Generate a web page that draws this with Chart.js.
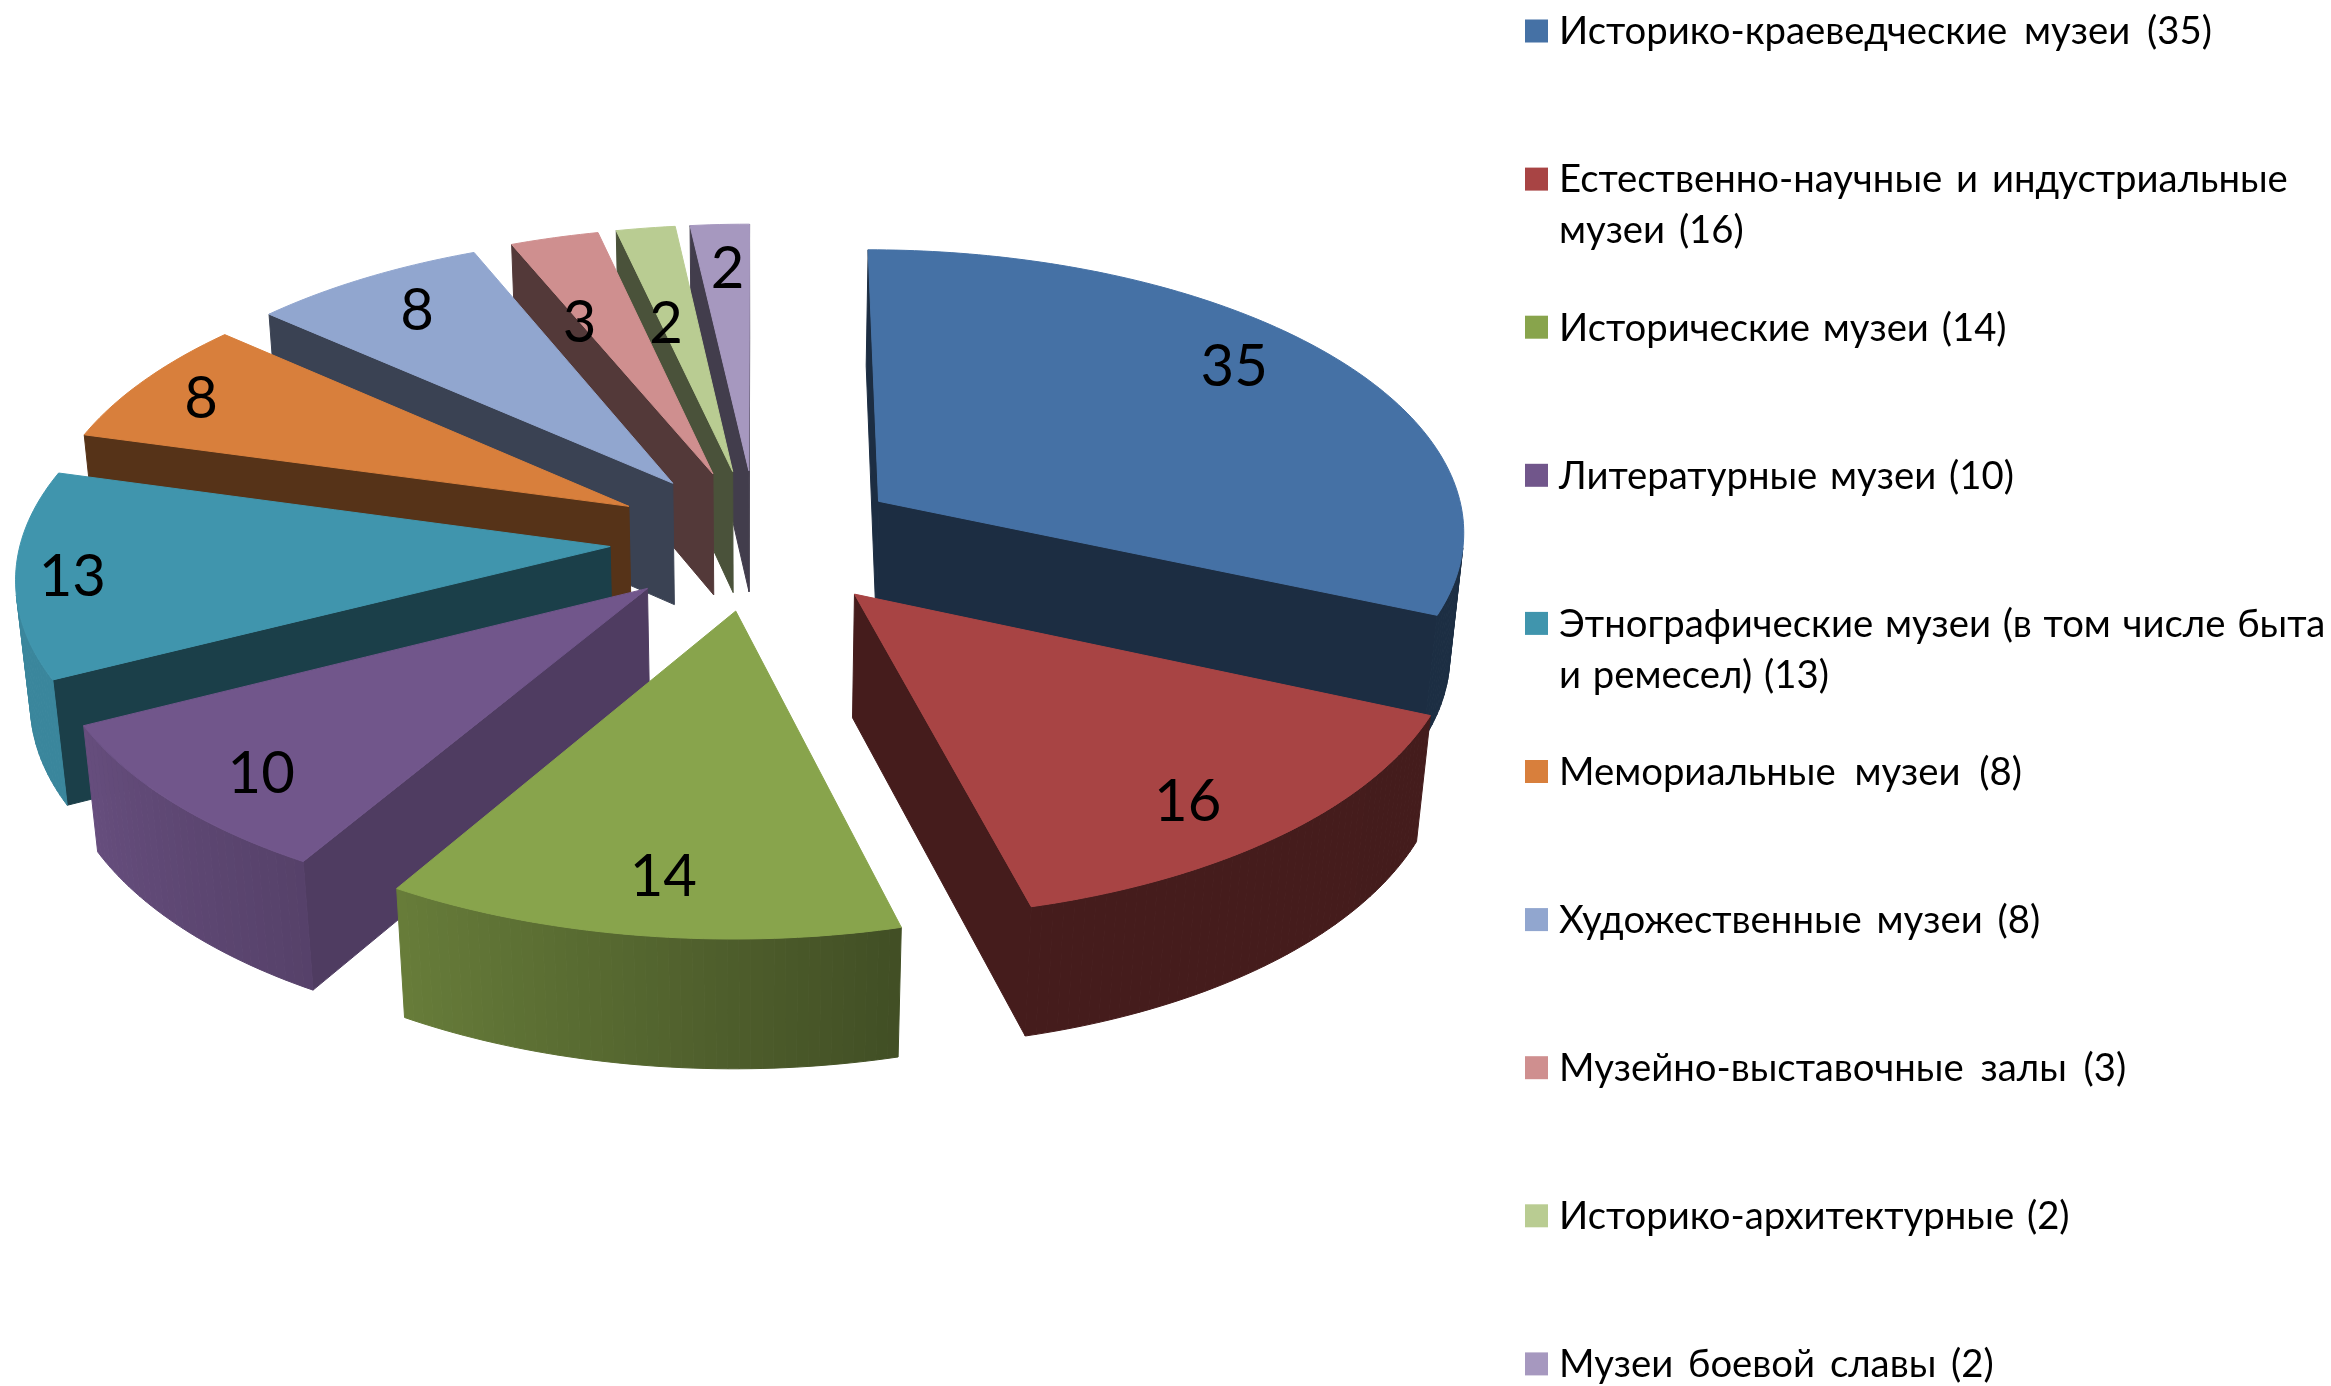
<!DOCTYPE html>
<html lang="ru">
<head>
<meta charset="utf-8">
<title>Музеи</title>
<script src="https://cdn.jsdelivr.net/npm/chart.js@4/dist/chart.umd.min.js"></script>
<style>
  html, body { margin: 0; background: #fff; }
  canvas { display: block; }
</style>
</head>
<body>
<canvas id="pie" width="2331" height="1386"></canvas>
<script>
// -----------------------------
// Data
// -----------------------------
const categories = [
    'Историко-краеведческие музеи',
    'Естественно-научные и индустриальные музеи',
    'Исторические музеи',
    'Литературные музеи',
    'Этнографические музеи (в том числе быта и ремесел)',
    'Мемориальные музеи',
    'Художественные музеи',
    'Музейно-выставочные залы',
    'Историко-архитектурные',
    'Музеи боевой славы'
];
const values = [35, 16, 14, 10, 13, 8, 8, 3, 2, 2];

// -----------------------------
// Styles
// -----------------------------
const colors = ['#4571a5', '#a84444', '#88a44c', '#71568b', '#4095ad', '#d87f3c', '#91a6cf', '#cf8f8f', '#b9cc92', '#a698bf'];
const wallShade = [0.4, 0.41, 0.5, 0.7, 0.42, 0.4, 0.4, 0.4, 0.4, 0.4];
const rimStops = [[0, 0.4], [165.2, 0.41], [165.5, 0.48], [211, 0.76], [243, 0.9], [360, 0.9]];
const labelNudge = [[9, -25], [18, 32], [-2, 29], [-35, 29], [-93, 10], [-60, -12], [-21, -15], [-12, 30], [0, 39], [1, -13]];
const legendWordGap = [7, 4, 3, 3, 2, 9, 5, 7, 3, 5];
// where the legend breaks long names onto a second line
const legendBreaks = { 1: 'Естественно-научные и индустриальные', 4: 'Этнографические музеи (в том числе быта' };

// -----------------------------
// Projection of the tilted pie
// -----------------------------
const explode = 0.25, tilt = 0.4793, persp = 0.095, depth = 125, converge = 0.02, radiusScale = 1.0958;

function project(el, u, v, z) {
    const S = el.outerRadius * radiusScale;
    const d = 1 + persp * v + converge * z;
    return [el.x + S * u / d, el.y - S * tilt * v / d + depth * z / d];
}

// slice point at radius r and clock angle th, pushed out along the slice's mid angle
function slicePoint(el, th, r, z) {
    const mid = (el.startAngle + el.endAngle) / 2 + Math.PI / 2;
    const u = explode * Math.sin(mid) + r * Math.sin(th);
    const v = explode * Math.cos(mid) + r * Math.cos(th);
    return project(el, u, v, z);
}

function shade(hex, f) {
    const n = parseInt(hex.slice(1), 16);
    return `rgb(${Math.round((n >> 16) * f)},${Math.round(((n >> 8) & 255) * f)},${Math.round((n & 255) * f)})`;
}

function rimShade(deg) {
    for (let i = 1; i < rimStops.length; i++) {
        const [d0, f0] = rimStops[i - 1], [d1, f1] = rimStops[i];
        if (deg <= d1) return f0 + (f1 - f0) * (deg - d0) / (d1 - d0);
    }
    return rimStops[rimStops.length - 1][1];
}

function fillPoly(ctx, pts, color) {
    ctx.beginPath();
    pts.forEach((p, i) => {
        if (i === 0) ctx.moveTo(p[0], p[1]); else ctx.lineTo(p[0], p[1]);
    });
    ctx.closePath();
    ctx.fillStyle = color;
    ctx.strokeStyle = color;
    ctx.lineWidth = 1;
    ctx.fill();
    ctx.stroke();
}

// quad is drawn only when it faces the viewer
function drawWall(ctx, a, b, color) {
    const pts = [a[0], b[0], b[1], a[1]];
    let area = 0;
    pts.forEach((p, i) => {
        const q = pts[(i + 1) % 4];
        area += p[0] * q[1] - q[0] * p[1];
    });
    if (area < 0) fillPoly(ctx, pts, color);
}

function drawSlice(ctx, el, i) {
    const th0 = el.startAngle + Math.PI / 2, th1 = el.endAngle + Math.PI / 2;
    const base = colors[i];
    const steps = Math.max(4, Math.round((th1 - th0) * 180 / Math.PI));
    const edge = (th, r) => [slicePoint(el, th, r, 0), slicePoint(el, th, r, 1)];

    drawWall(ctx, edge(th0, 0), edge(th0, 1), shade(base, wallShade[i]));
    drawWall(ctx, edge(th1, 1), edge(th1, 0), shade(base, wallShade[i]));

    const top = [slicePoint(el, th0, 0, 0)];
    for (let s = 0; s <= steps; s++) {
        const th = th0 + (th1 - th0) * s / steps;
        top.push(slicePoint(el, th, 1, 0));
        if (s < steps) {
            const next = th0 + (th1 - th0) * (s + 1) / steps;
            drawWall(ctx, edge(th, 1), edge(next, 1), shade(base, rimShade((th + next) * 90 / Math.PI)));
        }
    }
    fillPoly(ctx, top, base);
}

// -----------------------------
// Plugins
// -----------------------------
const pie3d = {
    id: 'pie3d',
    beforeDatasetsDraw(chart) {
        const ctx = chart.ctx;
        const arcs = chart.getDatasetMeta(0).data;
        const order = arcs.map((el, i) => i).sort((a, b) => {
            const midV = el => Math.cos((el.startAngle + el.endAngle) / 2 + Math.PI / 2);
            return midV(arcs[b]) - midV(arcs[a]);
        });
        ctx.save();
        ctx.lineJoin = 'round';
        order.forEach(i => drawSlice(ctx, arcs[i], i));
        ctx.restore();
        return false; // the slices are done, skip the flat arcs
    },
    afterDraw(chart) {
        const ctx = chart.ctx;
        ctx.save();
        ctx.font = '58px Lato';
        ctx.fillStyle = '#000';
        ctx.textAlign = 'center';
        ctx.textBaseline = 'middle';
        chart.getDatasetMeta(0).data.forEach((el, i) => {
            const mid = (el.startAngle + el.endAngle) / 2 + Math.PI / 2;
            const p = slicePoint(el, mid, 0.75, 0);
            ctx.fillText(String(values[i]), p[0] + labelNudge[i][0], p[1] + labelNudge[i][1]);
        });
        ctx.restore();
    }
};

const sideLegend = {
    id: 'sideLegend',
    afterDraw(chart) {
        const ctx = chart.ctx;
        ctx.save();
        ctx.font = '38.3px Lato';
        ctx.textBaseline = 'middle';
        categories.forEach((name, i) => {
            const y = 31 + i * 148.1;
            ctx.fillStyle = colors[i];
            ctx.fillRect(1525, y - 11.5, 23, 23);
            ctx.fillStyle = '#000';
            ctx.wordSpacing = legendWordGap[i] + 'px';
            const first = legendBreaks[i];
            if (first) {
                ctx.fillText(first, 1559, y + 1);
                ctx.fillText(`${name.slice(first.length + 1)} (${values[i]})`, 1559, y + 52);
            } else {
                ctx.fillText(`${name} (${values[i]})`, 1559, y + 1);
            }
        });
        ctx.restore();
    }
};

// -----------------------------
// Chart
// -----------------------------
new Chart(document.getElementById('pie'), {
    type: 'pie',
    data: {
        labels: categories,
        datasets: [{ data: values, backgroundColor: colors, borderWidth: 0 }]
    },
    options: {
        responsive: false,
        animation: false,
        events: [],
        layout: { padding: { left: 219, right: 1036, top: 2, bottom: 309 } },
        plugins: { legend: { display: false }, tooltip: { enabled: false } }
    },
    plugins: [pie3d, sideLegend]
});
</script>
</body>
</html>
